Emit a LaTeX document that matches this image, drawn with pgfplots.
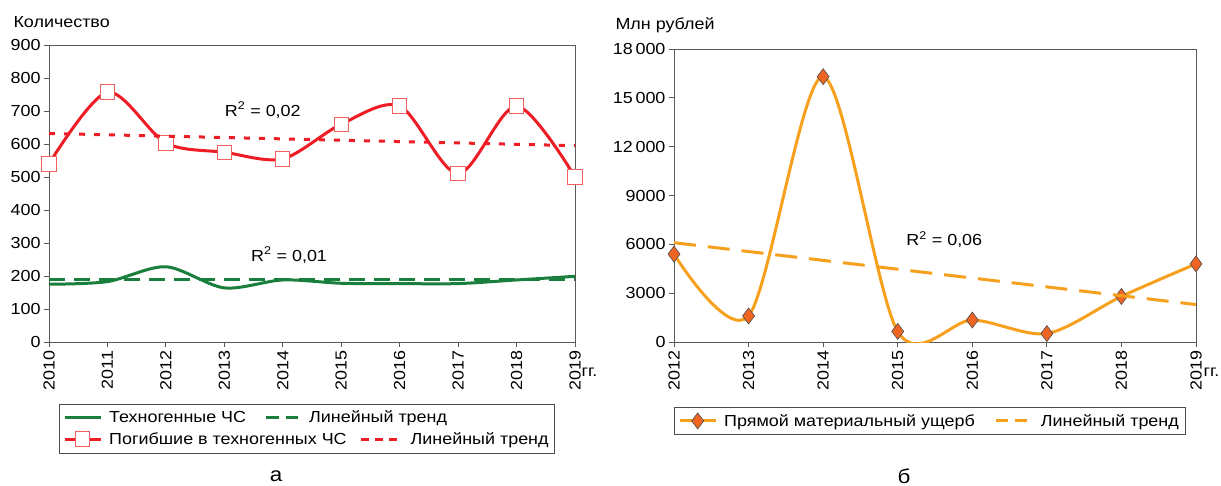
\documentclass[border=0pt]{standalone}
\usepackage{fontspec}
\setmainfont{Liberation Sans}[FakeStretch=1.12]
\usepackage{pgfplots}
\pgfplotsset{compat=1.18}
\definecolor{cred}{HTML}{EE1C25}
\definecolor{credm}{HTML}{F06060}
\definecolor{cgreen}{HTML}{1A7F3C}
\definecolor{corange}{HTML}{F7A01D}
\definecolor{cdia}{HTML}{EE6422}
\newcommand{\trendicon}[3]{\tikz[baseline=-0.6ex]\draw[#1, line width=3pt, #2] (0pt,0pt) -- (#3,0pt);}
\pgfplotsset{
  common/.style={
    scale only axis,
    anchor=south west,
    axis line style={draw=black!65},
    tick pos=left,
    tick align=outside,
    major tick length=5pt,
    tick style={draw=black!65, line width=0.8pt},
    scaled y ticks=false,
    /pgf/number format/assume math mode=true,
    ticklabel style={font=\fontsize{16}{19}\selectfont},
    xticklabel style={rotate=90, anchor=east},
    legend cell align=left,
    legend image code/.code={\draw[mark repeat=2,mark phase=2,##1] plot coordinates {(0pt,0pt) (18pt,0pt) (36pt,0pt)};},
    legend style={draw=black!70, font=\fontsize{16}{19}\selectfont, inner xsep=4pt, inner ysep=5pt,
      row sep=4pt,
      /tikz/every odd column/.append style={column sep=5pt},
      /tikz/every even column/.append style={column sep=16pt}},
  }
}
\begin{document}
\begin{tikzpicture}[font=\fontsize{16}{19}\selectfont]
\useasboundingbox (0,0) rectangle (1221pt,485pt);
\begin{axis}[common,
  at={(49pt,143pt)}, width=526pt, height=297pt,
  xmin=2010, xmax=2019, ymin=0, ymax=900,
  xtick={2010,2011,2012,2013,2014,2015,2016,2017,2018,2019},
  xticklabels={2010,2011,2012,2013,2014,2015,2016,2017,2018,2019},
  ytick={0,100,200,300,400,500,600,700,800,900},
  legend columns=1,
  legend style={at={(0.019,-0.208)}, anchor=north west},
  clip mode=individual,
]
\addplot[cgreen, line width=3pt, smooth, tension=0.5] coordinates {
 (2010,175) (2011,183) (2012,228) (2013,164) (2014,188) (2015,178) (2016,177) (2017,177) (2018,188) (2019,199)};
\addlegendentry{Техногенные ЧС\hspace{18pt}\trendicon{cgreen}{dash pattern=on 13pt off 7pt}{32pt}\hspace{10pt}Линейный тренд}
\addplot[cgreen, line width=3pt, dash pattern=on 16pt off 9pt, forget plot] coordinates {(2010,189) (2019,189)};
\addplot[cred, line width=3pt, smooth, tension=0.5, mark=square*, mark size=7.2pt,
  mark options={solid, fill=white, draw=credm, line width=1pt}] coordinates {
 (2010,540) (2011,757) (2012,603) (2013,575) (2014,555) (2015,660) (2016,715) (2017,510) (2018,715) (2019,500)};
\addlegendentry{Погибшие в техногенных ЧС\hspace{13pt}\trendicon{cred}{dash pattern=on 8pt off 6pt}{38pt}\hspace{10pt}Линейный тренд}
\addplot[cred, line width=3pt, dash pattern=on 6pt off 9pt, forget plot] coordinates {(2010,632) (2019,595)};
\node[anchor=west] at (axis cs:2012.95,703) {R\textsuperscript{2} = 0,02};
\node[anchor=west] at (axis cs:2013.4,263) {R\textsuperscript{2} = 0,01};
\end{axis}
\node[anchor=west] at (10pt,463pt) {Количество};
\node[anchor=west] at (578pt,113pt) {гг.};
\node[font=\fontsize{20}{24}\selectfont] at (276pt,9pt) {а};

\begin{axis}[common,
  at={(674pt,143pt)}, width=522pt, height=293pt,
  xmin=2012, xmax=2019, ymin=0, ymax=18000,
  xtick={2012,2013,2014,2015,2016,2017,2018,2019},
  xticklabels={2012,2013,2014,2015,2016,2017,2018,2019},
  ytick={0,3000,6000,9000,12000,15000,18000},
  yticklabels={0,3000,6000,9000,12\,000,15\,000,18\,000},
  legend columns=2,
  legend style={at={(0.0,-0.222)}, anchor=north west,
    /tikz/every even column/.append style={column sep=18pt}},
  clip mode=individual,
]
\addplot[corange, line width=3pt, smooth, tension=0.5, mark=diamond*, mark size=8pt,
  mark options={solid, fill=cdia, draw=black!70, line width=0.6pt}] coordinates {
 (2012,5400) (2013,1600) (2014,16300) (2015,650) (2016,1350) (2017,520) (2018,2800) (2019,4800)};
\addlegendentry{Прямой материальный ущерб}
\addplot[corange, line width=3pt, dash pattern=on 22pt off 12pt,
  legend image post style={dash pattern=on 12pt off 7pt}] coordinates {(2012,6100) (2019,2300)};
\addlegendentry{Линейный тренд}
\node[anchor=west] at (axis cs:2015.07,6270) {R\textsuperscript{2} = 0,06};
\end{axis}
\node[anchor=west] at (612pt,460pt) {Млн рублей};
\node[anchor=west] at (1200pt,113pt) {гг.};
\node[font=\fontsize{20}{24}\selectfont] at (904pt,9pt) {б};
\end{tikzpicture}
\end{document}
